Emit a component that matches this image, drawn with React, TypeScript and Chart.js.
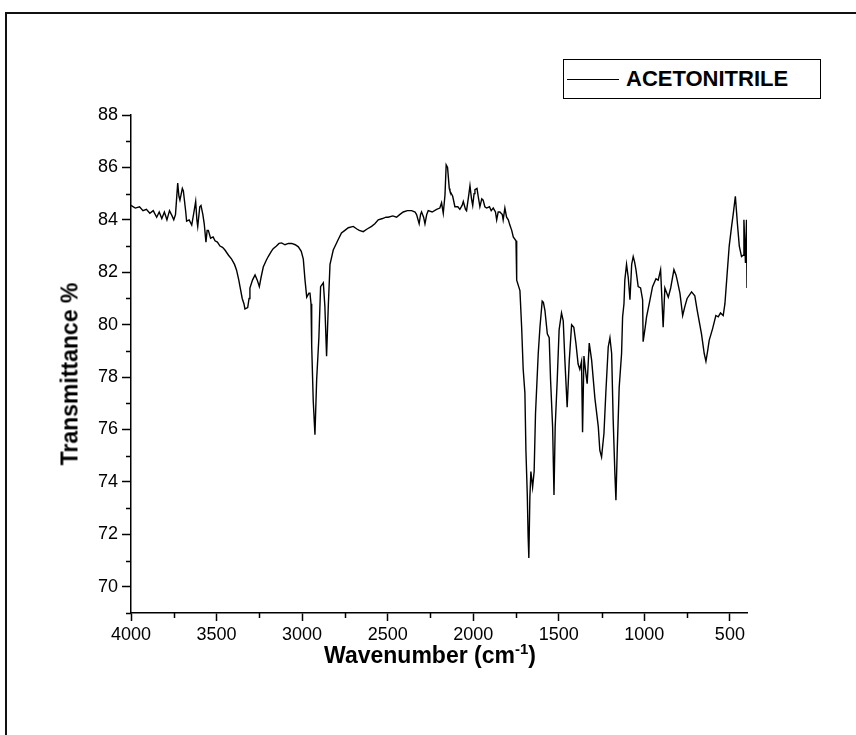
import React, { useEffect, useRef } from "react";
import { Chart, registerables } from "chart.js";

Chart.register(...registerables);

const wavenumbers: number[] = [
  4000, 3975, 3950, 3930, 3910, 3890, 3870, 3850, 3835, 3820, 3805, 3790, 3775, 3760, 3750, 3740,
  3727, 3720, 3714, 3700, 3694, 3680, 3675, 3660, 3645, 3632, 3622, 3615, 3610, 3598, 3591, 3580,
  3572, 3562, 3555, 3548, 3535, 3520, 3509, 3495, 3480, 3465, 3451, 3430, 3412, 3395, 3383, 3370,
  3363, 3350, 3340, 3334, 3318, 3310, 3305, 3290, 3275, 3262, 3250, 3240, 3227, 3210, 3198, 3180,
  3169, 3150, 3135, 3120, 3100, 3080, 3061, 3040, 3022, 3005, 2993, 2983, 2973, 2960, 2954, 2948,
  2944, 2935, 2925, 2915, 2902, 2892, 2876, 2867, 2857, 2847, 2837, 2818, 2800, 2789, 2770, 2750,
  2730, 2701, 2680, 2666, 2643, 2620, 2594, 2575, 2555, 2530, 2510, 2497, 2470, 2448, 2430, 2409,
  2385, 2360, 2340, 2331, 2316, 2308, 2302, 2290, 2282, 2272, 2263, 2240, 2214, 2195, 2185, 2175,
  2165, 2158, 2150, 2140, 2136, 2120, 2107, 2090, 2078, 2065, 2058, 2045, 2039, 2025, 2019, 2010,
  2003, 1995, 1990, 1978, 1971, 1961, 1950, 1942, 1932, 1922, 1905, 1895, 1883, 1870, 1863, 1854,
  1844, 1830, 1825, 1815, 1805, 1795, 1786, 1775, 1766, 1750, 1746, 1727, 1717, 1708, 1698, 1692,
  1684, 1679, 1675, 1669, 1663, 1653, 1644, 1636, 1620, 1610, 1597, 1590, 1581, 1567, 1556, 1548,
  1536, 1528, 1521, 1509, 1498, 1484, 1474, 1464, 1451, 1439, 1425, 1412, 1400, 1387, 1377, 1367,
  1361, 1353, 1341, 1334, 1322, 1308, 1289, 1269, 1260, 1250, 1236, 1225, 1211, 1201, 1191, 1182,
  1172, 1166, 1158, 1147, 1133, 1127, 1119, 1114, 1104, 1094, 1084, 1074, 1065, 1057, 1049, 1036,
  1022, 1010, 1007, 995, 987, 967, 952, 932, 919, 905, 890, 880, 860, 846, 827, 815,
  808, 792, 776, 763, 750, 724, 705, 691, 666, 650, 640, 630, 621, 601, 582, 568,
  555, 539, 529, 516, 504, 490, 480, 468, 456, 445, 432, 422, 418, 409, 403, 400,
];

const transmittance: number[] = [
  84.55, 84.45, 84.5, 84.35, 84.4, 84.25, 84.35, 84.1, 84.3, 84.05, 84.3, 84.0, 84.35, 84.15, 84.0, 84.2,
  85.4, 84.9, 84.75, 85.2, 85.1, 84.3, 83.95, 84.0, 83.8, 84.3, 84.7, 84.0, 83.75, 84.5, 84.55, 84.2,
  83.85, 83.15, 83.6, 83.6, 83.3, 83.35, 83.2, 83.15, 83.0, 82.95, 82.85, 82.65, 82.5, 82.3, 82.08, 81.7,
  81.45, 81.0, 80.8, 80.6, 80.65, 81.0, 81.4, 81.7, 81.9, 81.7, 81.45, 81.8, 82.2, 82.45, 82.6, 82.8,
  82.9, 83.0, 83.1, 83.12, 83.05, 83.1, 83.1, 83.05, 82.97, 82.8, 82.5, 81.7, 81.05, 81.2, 81.2, 80.8,
  79.2, 77.1, 75.8, 77.9, 79.5, 81.45, 81.6, 80.7, 78.8, 80.7, 82.3, 82.85, 83.1, 83.25, 83.5, 83.6,
  83.7, 83.75, 83.65, 83.6, 83.55, 83.65, 83.75, 83.85, 84.0, 84.05, 84.1, 84.1, 84.15, 84.1, 84.2, 84.3,
  84.35, 84.35, 84.3, 84.2, 83.85, 84.2, 84.3, 84.1, 83.85, 84.2, 84.35, 84.3, 84.4, 84.45, 84.65, 84.25,
  84.95, 86.1, 86.0, 85.2, 85.1, 84.9, 84.5, 84.5, 84.4, 84.55, 84.7, 84.4, 84.35, 85.0, 85.3, 84.8,
  84.55, 85.0, 85.15, 85.2, 84.9, 84.5, 84.8, 84.75, 84.5, 84.45, 84.5, 84.35, 84.45, 84.3, 84.0, 84.3,
  84.3, 84.2, 84.0, 84.45, 84.1, 84.0, 83.8, 83.6, 83.35, 83.2, 81.7, 81.3, 79.9, 78.3, 77.4, 75.2,
  73.5, 71.9, 71.1, 73.4, 74.4, 73.8, 74.4, 76.6, 78.9, 79.9, 80.9, 80.85, 80.55, 79.65, 79.5, 77.9,
  76.1, 73.5, 76.1, 77.9, 79.8, 80.45, 80.15, 78.6, 76.85, 78.6, 80.0, 79.9, 79.3, 78.5, 78.3, 78.6,
  75.9, 78.8, 78.1, 77.75, 79.3, 78.65, 77.2, 76.1, 75.2, 74.95, 75.85, 77.4, 79.15, 79.5, 78.9, 76.35,
  74.3, 73.3, 75.3, 77.6, 78.9, 80.3, 80.8, 81.7, 82.3, 81.8, 80.95, 82.3, 82.6, 82.4, 82.1, 81.45,
  81.4, 80.95, 79.35, 79.9, 80.3, 80.95, 81.45, 81.75, 81.7, 82.1, 79.9, 81.4, 81.05, 81.4, 82.1, 81.9,
  81.7, 81.2, 80.35, 80.7, 81.0, 81.25, 81.1, 80.55, 79.65, 78.9, 78.6, 79.0, 79.4, 79.85, 80.35, 80.3,
  80.45, 80.35, 80.8, 81.95, 83.0, 83.75, 84.25, 84.9, 83.85, 83.0, 82.6, 82.65, 84.0, 82.35, 84.0, 81.4,
];

const seriesName = "ACETONITRILE";
const xTitle = "Wavenumber (cm";
const xTitleSup = "-1";
const yTitle = "Transmittance %";
const xMajorTicks: number[] = [4000, 3500, 3000, 2500, 2000, 1500, 1000, 500];
const xMinorTicks: number[] = [3750, 3250, 2750, 2250, 1750, 1250, 750];
const yMajorTicks: number[] = [70, 72, 74, 76, 78, 80, 82, 84, 86, 88];
const yMinorTicks: number[] = [69, 71, 73, 75, 77, 79, 81, 83, 85, 87];

const FONT = "'Liberation Sans', Arial, Helvetica, sans-serif";

const minorTicksPlugin = {
  id: "minorTicks",
  afterDraw(chart: any) {
    const ctx = chart.ctx;
    const xs = chart.scales.x;
    const ys = chart.scales.y;
    ctx.save();
    ctx.strokeStyle = "#000";
    ctx.lineWidth = 1.5;
    ctx.beginPath();
    for (const v of xMinorTicks) {
      const px = Math.round(xs.getPixelForValue(v)) + 0.5;
      ctx.moveTo(px, ys.bottom);
      ctx.lineTo(px, ys.bottom + 5);
    }
    for (const v of yMinorTicks) {
      const py = Math.round(ys.getPixelForValue(v)) + 0.5;
      ctx.moveTo(xs.left, py);
      ctx.lineTo(xs.left - 5, py);
    }
    ctx.stroke();
    ctx.restore();
  },
};

export default function App() {
  const canvasRef = useRef<HTMLCanvasElement | null>(null);

  useEffect(() => {
    if (!canvasRef.current) return;
    const points = wavenumbers.map((w, i) => ({ x: w, y: transmittance[i] }));
    const chart = new Chart(canvasRef.current, {
      type: "line",
      data: {
        datasets: [
          {
            label: seriesName,
            data: points,
            borderColor: "#000",
            borderWidth: 1.4,
            pointRadius: 0,
            tension: 0,
            fill: false,
          },
        ],
      },
      plugins: [minorTicksPlugin],
      options: {
        animation: false,
        responsive: false,
        devicePixelRatio: 1,
        parsing: false as any,
        layout: { padding: { left: 60, top: 115, right: 109, bottom: 0 } },
        plugins: {
          legend: { display: false },
          tooltip: { enabled: false },
        },
        scales: {
          x: {
            type: "linear",
            reverse: true,
            min: 400,
            max: 4000,
            afterBuildTicks: (s: any) => {
              s.ticks = xMajorTicks.map((v) => ({ value: v }));
            },
            afterFit: (s: any) => {
              s.height = 122;
            },
            grid: {
              display: true,
              drawOnChartArea: false,
              drawTicks: true,
              tickLength: 8,
              tickColor: "#000",
              tickWidth: 1.5,
            },
            border: { display: true, color: "#000", width: 1.5 },
            ticks: {
              autoSkip: false,
              maxRotation: 0,
              color: "#000",
              padding: 3,
              font: { family: FONT, size: 18 },
              callback: (v: any) => String(v),
            },
          },
          y: {
            type: "linear",
            min: 69,
            max: 88,
            afterBuildTicks: (s: any) => {
              s.ticks = yMajorTicks.map((v) => ({ value: v }));
            },
            afterFit: (s: any) => {
              s.width = 71;
            },
            grid: {
              display: true,
              drawOnChartArea: false,
              drawTicks: true,
              tickLength: 9,
              tickColor: "#000",
              tickWidth: 1.5,
            },
            border: { display: true, color: "#000", width: 1.5 },
            ticks: {
              autoSkip: false,
              color: "#000",
              padding: 4,
              font: { family: FONT, size: 18 },
              callback: (v: any) => String(v),
            },
          },
        },
      },
    });
    return () => chart.destroy();
  }, []);

  return (
    <div
      style={{
        position: "absolute",
        left: 0,
        top: 0,
        width: 856,
        height: 735,
        overflow: "hidden",
        background: "#fff",
        fontFamily: FONT,
      }}
    >
      <div
        style={{
          position: "absolute",
          left: 5,
          top: 12,
          width: 1000,
          height: 1000,
          border: "2px solid #111",
          boxSizing: "border-box",
        }}
      />
      <canvas
        ref={canvasRef}
        width={856}
        height={735}
        style={{ position: "absolute", left: 0, top: 0, width: 856, height: 735 }}
      />
      <div
        style={{
          position: "absolute",
          left: 563,
          top: 59,
          width: 258,
          height: 40,
          border: "1.5px solid #000",
          boxSizing: "border-box",
          background: "#fff",
        }}
      >
        <div
          style={{
            position: "absolute",
            left: 3,
            top: 19,
            width: 52,
            height: 0,
            borderTop: "1.3px solid #000",
          }}
        />
        <div
          style={{
            position: "absolute",
            left: 62,
            top: 0,
            height: 38,
            lineHeight: "38px",
            fontSize: 22,
            fontWeight: "bold",
            color: "#000",
            whiteSpace: "nowrap",
          }}
        >
          {seriesName}
        </div>
      </div>
      <div
        style={{
          position: "absolute",
          left: 70,
          top: 374,
          transform: "translate(-50%, -50%) rotate(-90deg)",
          fontSize: 23,
          fontWeight: "bold",
          whiteSpace: "nowrap",
          color: "#000",
        }}
      >
        {yTitle}
      </div>
      <div
        style={{
          position: "absolute",
          left: 430,
          top: 655,
          transform: "translate(-50%, -50%)",
          fontSize: 23,
          fontWeight: "bold",
          whiteSpace: "nowrap",
          color: "#000",
        }}
      >
        {xTitle}
        <sup style={{ fontSize: 15, lineHeight: 0 }}>{xTitleSup}</sup>)
      </div>
    </div>
  );
}
